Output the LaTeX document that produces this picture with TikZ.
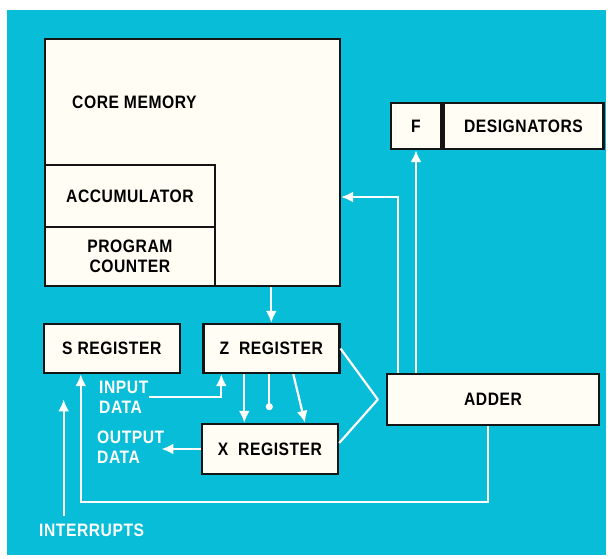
\documentclass[tikz,border=0pt]{standalone}
\usepackage{fontspec}
\setmainfont{Liberation Sans}[LetterSpace=3, FakeStretch=0.87]
\usepackage{xcolor}
\usepackage{tikz}
\usetikzlibrary{positioning, arrows.meta}
\definecolor{PanelCyan}{RGB}{8,189,216}
\definecolor{BoxCream}{RGB}{255,253,244}
\definecolor{EdgeBlack}{RGB}{20,20,20}
\tikzset{
  regbox/.style={draw=EdgeBlack, line width=2.4pt, fill=BoxCream, inner sep=0pt,
    font=\fontsize{18}{20}\selectfont\bfseries, align=center},
  boxtxt/.style={font=\fontsize{18}{20}\selectfont\bfseries, inner sep=0pt},
  wire/.style={draw=white, line width=2.2pt},
  arr/.style={wire, -{Latex[length=12pt,width=11pt]}},
  dotarr/.style={wire, -{Circle[length=7pt]}},
  lbl/.style={text=white, font=\fontsize{18}{20}\selectfont\bfseries, align=left, inner sep=0pt},
}

\begin{document}
\begin{tikzpicture}[x=1pt, y=1pt, >=Latex]
  \useasboundingbox (0,0) rectangle (610,-559);
  \fill[white] (0,0) rectangle (610,-559);
  \fill[PanelCyan] (7,-10) rectangle (606,-555);

  \node[regbox, minimum width=295pt, minimum height=247pt] (core) at (192.4,-162.6) {};
  \node[boxtxt, anchor=west] (coretxt) at (72,-102) {CORE MEMORY};
  \node[regbox, minimum width=170pt, minimum height=62pt] (acc) at (129.9,-196) {ACCUMULATOR};
  \node[regbox, minimum width=170pt, minimum height=59pt] (pc) at (129.9,-256.5) {PROGRAM\\COUNTER};

  \node[regbox, minimum width=50pt, minimum height=46pt] (fbox) at (416,-126) {F};
  \node[regbox, minimum width=160pt, minimum height=46pt, anchor=west] (desig) at (fbox.east) {DESIGNATORS};

  \node[regbox, minimum width=136pt, minimum height=49pt] (sreg) at (111.8,-348.5) {S REGISTER};
  \node[regbox, minimum width=136pt, minimum height=49pt] (zreg) at (271.3,-348.5) {Z\ \ REGISTER};
  \node[regbox, minimum width=136pt, minimum height=50pt] (xreg) at (270,-449) {X\ \ REGISTER};
  \node[regbox, minimum width=212pt, minimum height=51pt] (adder) at (493,-399.5) {ADDER};

  \node[lbl, anchor=west] (inlbl) at (99,-397) {INPUT\\DATA};
  \node[lbl, anchor=west] (outlbl) at (97,-447) {OUTPUT\\DATA};
  \node[lbl, anchor=west] (intr) at (39,-530) {INTERRUPTS};

  \draw[arr] (core.south -| zreg.north) -- (zreg.north);
  \draw[arr] ([xshift=-95pt]adder.north) |- ([yshift=-34.4pt]core.east);
  \draw[arr] (adder.north -| fbox.south) -- (fbox.south);

  \coordinate (vtx) at ([xshift=-8pt]adder.west);
  \draw[wire, line join=round] (zreg.east) -- (vtx) -- ([yshift=6pt]xreg.east);

  \draw[arr] ([xshift=-27pt]zreg.south) -- ([xshift=-27pt]zreg.south |- xreg.north);
  \draw[dotarr] ([xshift=-2pt]zreg.south) -- ++(0,-36);
  \draw[arr] ([xshift=22pt]zreg.south) -- ([xshift=35pt]xreg.north);

  \draw[arr] (inlbl.east) -| ([xshift=-50pt]zreg.south);
  \draw[arr] (xreg.west) -- ([xshift=-3pt]xreg.west -| outlbl.east);
  \draw[arr] ([xshift=-5pt]adder.south) -- ++(0,-76) -| ([xshift=-31pt]sreg.south);
  \draw[arr] ([xshift=-28pt,yshift=7pt]intr.north) -- ++(0,117);
\end{tikzpicture}
\end{document}
